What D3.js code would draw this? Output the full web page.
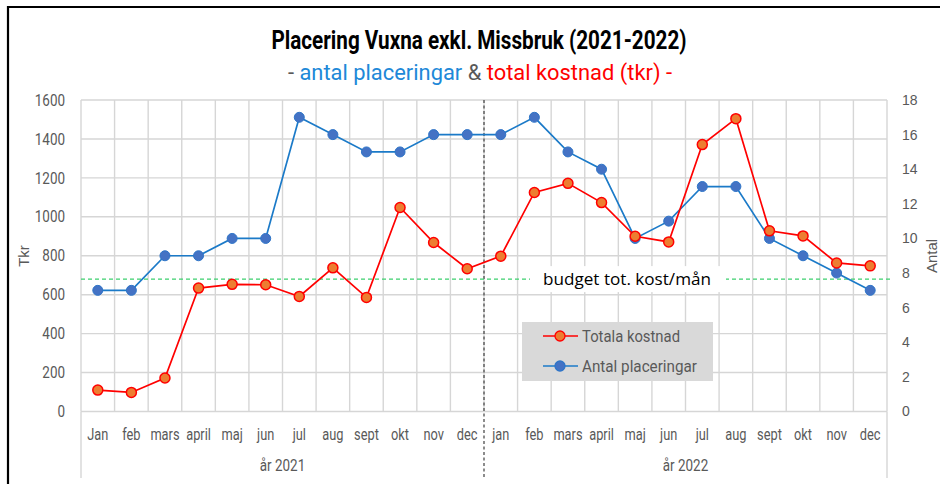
<!DOCTYPE html>
<html><head><meta charset="utf-8">
<script src="https://cdn.jsdelivr.net/npm/d3@7"></script>
<style>
body{margin:0;background:#fff;}
svg{display:block;}
</style></head>
<body>
<svg id="chart" width="940" height="484"></svg>
<script>
const months = ["Jan","feb","mars","april","maj","jun","jul","aug","sept","okt","nov","dec",
                "jan","feb","mars","april","maj","jun","jul","aug","sept","okt","nov","dec"];
const years = ["år 2021","år 2022"];
const totalaKostnad = [110,98,172,634,653,651,591,738,586,1048,868,733,
                       798,1125,1172,1073,900,871,1371,1504,928,902,763,748];
const antalPlaceringar = [7,7,9,9,10,10,17,16,15,15,16,16,
                          16,17,15,14,10,11,13,13,10,9,8,7];
const budget = 680;
const leftTicks = [0,200,400,600,800,1000,1200,1400,1600];
const rightTicks = [0,2,4,6,8,10,12,14,16,18];

const svg = d3.select("#chart");
const font = 'Roboto,"Liberation Sans",sans-serif';
const gray = "#595959";
const plot = {l:81, r:887, t:100, b:411.5};

function condense(sel, factor){
  sel.each(function(){
    const w = this.getComputedTextLength();
    d3.select(this).attr("textLength", w*factor).attr("lengthAdjust","spacingAndGlyphs");
  });
}
function fitWidth(sel, width){
  sel.attr("textLength", width).attr("lengthAdjust","spacingAndGlyphs");
}

const x = d3.scaleBand().domain(d3.range(months.length)).range([plot.l, plot.r]);
const yL = d3.scaleLinear().domain([0,1600]).range([plot.b, plot.t]);
const yR = d3.scaleLinear().domain([0,18]).range([plot.b, plot.t]);
const cx = i => x(i) + x.bandwidth()/2;

// border
svg.append("path").attr("d","M8,484 L8,7 L940,7").attr("fill","none").attr("stroke","#000").attr("stroke-width",2.2);

// gridlines horizontal
svg.append("g").selectAll("line").data(leftTicks).join("line")
  .attr("x1",plot.l).attr("x2",plot.r).attr("y1",d=>yL(d)).attr("y2",d=>yL(d))
  .attr("stroke","#d6d6d6").attr("stroke-width",1.4);
// gridlines vertical
svg.append("g").selectAll("line").data(d3.range(months.length+1)).join("line")
  .attr("x1",i=>plot.l+i*x.step()).attr("x2",i=>plot.l+i*x.step())
  .attr("y1",plot.t).attr("y2",plot.b)
  .attr("stroke","#d6d6d6").attr("stroke-width",1.4);
// category group ticks
svg.append("g").selectAll("line").data([0,24]).join("line")
  .attr("x1",i=>plot.l+i*x.step()).attr("x2",i=>plot.l+i*x.step())
  .attr("y1",plot.b).attr("y2",478)
  .attr("stroke","#d6d6d6").attr("stroke-width",1.4);

// left axis
const axL = svg.append("g").attr("transform",`translate(${plot.l},0)`)
  .call(d3.axisLeft(yL).tickValues(leftTicks).tickSize(0).tickPadding(16).tickFormat(d3.format("d")));
axL.select(".domain").remove();
axL.selectAll("text").attr("fill",gray).style("font-family",font).style("font-size","16px");
condense(axL.selectAll("text"), 0.84);

// right axis
const axR = svg.append("g").attr("transform",`translate(${plot.r},0)`)
  .call(d3.axisRight(yR).tickValues(rightTicks).tickSize(0).tickPadding(15).tickFormat(d3.format("d")));
axR.select(".domain").remove();
axR.selectAll("text").attr("fill",gray).style("font-family",'"Liberation Sans",sans-serif').style("font-size","14px");

// axis titles
svg.append("text").attr("transform",`translate(29,256) rotate(-90)`).attr("text-anchor","middle")
  .attr("fill",gray).style("font-family",'"Liberation Sans",sans-serif').style("font-size","15px").text("Tkr");
svg.append("text").attr("transform",`translate(937,256) rotate(-90)`).attr("text-anchor","middle")
  .attr("fill",gray).style("font-family",'"Liberation Sans",sans-serif').style("font-size","15px").text("Antal");

// month labels
const ml = svg.append("g").selectAll("text").data(months).join("text")
  .attr("x",(d,i)=>cx(i)).attr("y",440).attr("text-anchor","middle")
  .attr("fill",gray).style("font-family",font).style("font-size","16px").text(d=>d);
condense(ml, 0.8);
// year labels
const yl = svg.append("g").selectAll("text").data(years).join("text")
  .attr("x",(d,i)=>plot.l + (i*12+6)*x.step()).attr("y",471).attr("text-anchor","middle")
  .attr("fill",gray).style("font-family",font).style("font-size","16px").text(d=>d);
condense(yl, 0.84);

// separator dashed
svg.append("line").attr("x1",plot.l+12*x.step()).attr("x2",plot.l+12*x.step())
  .attr("y1",plot.t).attr("y2",478).attr("stroke","#404040").attr("stroke-width",1.2).attr("stroke-dasharray","3,2.5");

// budget line
svg.append("line").attr("x1",plot.l).attr("x2",plot.r+3).attr("y1",yL(budget)).attr("y2",yL(budget))
  .attr("stroke","#3ccf6e").attr("stroke-width",1.1).attr("stroke-dasharray","4,3");
const bLabel = svg.append("g");
bLabel.append("rect").attr("x",530).attr("y",yL(budget)-13).attr("width",196).attr("height",26).attr("fill","#fff");
const bt = bLabel.append("text").attr("x",627).attr("y",yL(budget)+6).attr("text-anchor","middle")
  .attr("fill","#000").style("font-family",'"Open Sans",sans-serif').style("font-size","17px").text("budget tot. kost/mån");
fitWidth(bt, 168);

// series
const redLine = d3.line().x((d,i)=>cx(i)).y(d=>yL(d));
const blueLine = d3.line().x((d,i)=>cx(i)).y(d=>yR(d));
svg.append("path").datum(antalPlaceringar).attr("d",blueLine).attr("fill","none").attr("stroke","#1b7ac8").attr("stroke-width",1.7);
svg.append("g").selectAll("circle").data(antalPlaceringar).join("circle")
  .attr("cx",(d,i)=>cx(i)).attr("cy",d=>yR(d)).attr("r",5).attr("fill","#4472c4").attr("stroke","#2e75c8").attr("stroke-width",1);
svg.append("path").datum(totalaKostnad).attr("d",redLine).attr("fill","none").attr("stroke","#ff0000").attr("stroke-width",1.7);
svg.append("g").selectAll("circle").data(totalaKostnad).join("circle")
  .attr("cx",(d,i)=>cx(i)).attr("cy",d=>yL(d)).attr("r",5).attr("fill","#ed7d31").attr("stroke","#ff0000").attr("stroke-width",1.5);

// legend
const lg = svg.append("g");
lg.append("rect").attr("x",522).attr("y",322).attr("width",191).attr("height",59).attr("fill","#d9d9d9");
const items = [{name:"Totala kostnad",line:"#ff0000",fill:"#ed7d31",stroke:"#ff0000",w:98},
               {name:"Antal placeringar",line:"#1b7ac8",fill:"#4472c4",stroke:"#2e75c8",w:115}];
items.forEach((it,k)=>{
  const yy = 336 + k*30;
  lg.append("line").attr("x1",543).attr("x2",578).attr("y1",yy).attr("y2",yy).attr("stroke",it.line).attr("stroke-width",1.7);
  lg.append("circle").attr("cx",560).attr("cy",yy).attr("r",5).attr("fill",it.fill).attr("stroke",it.stroke).attr("stroke-width",1.3);
  const t = lg.append("text").attr("x",582).attr("y",yy+6).attr("fill",gray).style("font-family",font).style("font-size","17px").text(it.name);
  fitWidth(t, it.w);
});

// title
const tt = svg.append("text").attr("x",479).attr("y",49).attr("text-anchor","middle")
  .attr("fill","#000").style("font-family",font).style("font-size","25px").style("font-weight","bold")
  .text("Placering Vuxna exkl. Missbruk (2021-2022)");
fitWidth(tt, 415);
const st = svg.append("text").attr("x",480).attr("y",80).attr("text-anchor","middle")
  .style("font-family",font).style("font-size","22px");
st.append("tspan").attr("fill",gray).text("- ");
st.append("tspan").attr("fill","#2088d8").text("antal placeringar");
st.append("tspan").attr("fill",gray).text(" & ");
st.append("tspan").attr("fill","#ff0000").text("total kostnad (tkr) -");
fitWidth(st, 384);
</script>
</body></html>
